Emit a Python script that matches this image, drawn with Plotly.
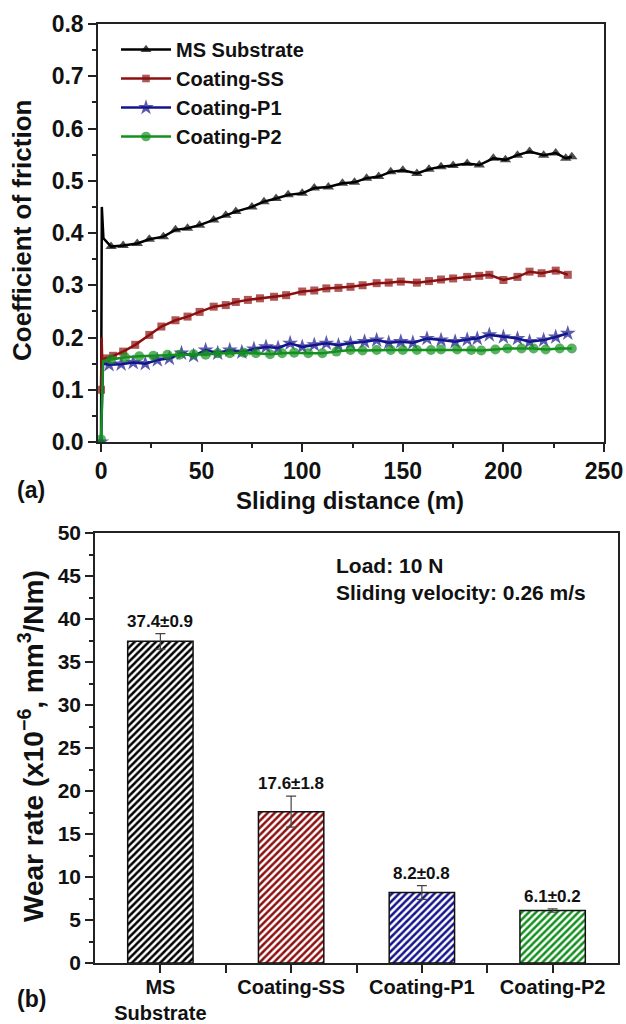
import plotly.graph_objects as go

# ---------------- data: (a) coefficient of friction ----------------
ms_x = [0, 0.4, 1.2, 5, 11, 18, 24, 31, 37, 43, 49, 56, 62, 67, 75, 81, 87, 93, 100, 106,
        113, 120, 126, 132, 138, 144, 150, 157, 163, 169, 175, 182, 188, 195, 201, 207, 213,
        220, 226, 231, 234]
ms_y = [0.0, 0.45, 0.39, 0.374, 0.376, 0.380, 0.388, 0.393, 0.406, 0.409, 0.415, 0.425, 0.434,
        0.441, 0.450, 0.460, 0.466, 0.473, 0.476, 0.486, 0.488, 0.495, 0.497, 0.505, 0.508,
        0.517, 0.520, 0.514, 0.522, 0.527, 0.529, 0.533, 0.530, 0.543, 0.540, 0.549, 0.556,
        0.549, 0.553, 0.543, 0.546]

ss_x = [0, 0.3, 0.6, 2, 6, 11, 17, 24, 30, 37, 43, 49, 56, 62, 67, 73, 79, 86, 92, 100, 106,
        112, 118, 124, 130, 137, 143, 149, 157, 163, 169, 175, 182, 188, 193, 200, 207, 213,
        219, 226, 232]
ss_y = [0.10, 0.20, 0.155, 0.160, 0.165, 0.173, 0.186, 0.205, 0.221, 0.233, 0.240, 0.249,
        0.259, 0.262, 0.268, 0.272, 0.275, 0.278, 0.281, 0.288, 0.290, 0.294, 0.295, 0.297,
        0.300, 0.304, 0.305, 0.307, 0.305, 0.308, 0.311, 0.313, 0.316, 0.318, 0.320, 0.310,
        0.316, 0.326, 0.323, 0.328, 0.320]

p1_x = [0, 1, 4, 10, 16, 22, 28, 34, 40, 46, 52, 58, 64, 70, 76, 82, 88, 94, 100, 106, 112,
        118, 124, 131, 137, 143, 149, 155, 162, 169, 176, 182, 187, 193, 200, 207, 213, 220,
        226, 232]
p1_y = [0.0, 0.150, 0.148, 0.149, 0.152, 0.150, 0.157, 0.160, 0.170, 0.165, 0.176, 0.170,
        0.176, 0.172, 0.178, 0.182, 0.180, 0.189, 0.182, 0.186, 0.189, 0.185, 0.189, 0.192,
        0.195, 0.190, 0.192, 0.190, 0.198, 0.195, 0.192, 0.196, 0.198, 0.205, 0.201, 0.198,
        0.192, 0.195, 0.201, 0.208]

p2_x = [0, 1, 5, 12, 19, 26, 33, 39, 46, 52, 58, 64, 71, 77, 84, 90, 96, 103, 110, 117, 124,
        130, 137, 144, 150, 157, 164, 169, 177, 184, 189, 196, 202, 209, 215, 221, 228, 234]
p2_y = [0.005, 0.155, 0.158, 0.162, 0.164, 0.165, 0.167, 0.167, 0.168, 0.167, 0.170, 0.170,
        0.171, 0.170, 0.168, 0.170, 0.171, 0.170, 0.170, 0.173, 0.176, 0.175, 0.176, 0.176,
        0.176, 0.176, 0.176, 0.177, 0.177, 0.176, 0.175, 0.177, 0.179, 0.179, 0.179, 0.177,
        0.179, 0.179]

series_names = ["MS Substrate", "Coating-SS", "Coating-P1", "Coating-P2"]
y_ticks_a = [0.0, 0.1, 0.2, 0.3, 0.4, 0.5, 0.6, 0.7, 0.8]
x_ticks_a = [0, 50, 100, 150, 200, 250]

# ---------------- data: (b) wear rate ----------------
categories = ["MS<br>Substrate", "Coating-SS", "Coating-P1", "Coating-P2"]
wear = [37.4, 17.6, 8.2, 6.1]
wear_err = [0.9, 1.8, 0.8, 0.2]
y_ticks_b = [0, 5, 10, 15, 20, 25, 30, 35, 40, 45, 50]

# ---------------- style ----------------
colors = ["#000000", "#8c1010", "#14148c", "#14901e"]
symbols = ["triangle-up", "square", "star", "circle"]
msizes = [10, 8, 12, 10]
FONT = "Liberation Sans, Arial, sans-serif"
W, H = 626, 1024
AXC = "#222222"
TXT = "#111111"


def px_x(p):
    return p / W


def px_y(p):
    return 1 - p / H


fig = go.Figure()

# hidden-marker indices for the initial run-in spike
hide = {0: [1, 2], 1: [1, 2], 2: [1], 3: [1]}
xs = [ms_x, ss_x, p1_x, p2_x]
ys = [ms_y, ss_y, p1_y, p2_y]
for i in range(4):
    sizes = [0 if k in hide[i] else msizes[i] for k in range(len(xs[i]))]
    fig.add_trace(go.Scatter(
        x=xs[i], y=ys[i], mode="lines+markers", name=series_names[i],
        line=dict(color=colors[i], width=2.5),
        marker=dict(symbol=symbols[i], size=sizes, color=colors[i],
                    line=dict(width=0)),
        xaxis="x", yaxis="y", showlegend=True, hoverinfo="skip"))

# bars
fig.add_trace(go.Bar(
    x=list(range(len(categories))), y=wear, width=0.5,
    marker=dict(color="white", line=dict(color="#111111", width=1.5),
                pattern=dict(shape="/", fgcolor=colors, bgcolor="white",
                             size=5, solidity=0.5, fillmode="replace")),
    error_y=dict(type="data", array=wear_err, visible=True, color="#444444",
                 thickness=1.2, width=5),
    xaxis="x2", yaxis="y2", showlegend=False, hoverinfo="skip"))


def axis_common(fs):
    return dict(showline=True, linecolor=AXC, linewidth=1.5, mirror=True,
                ticks="outside", ticklen=8, tickwidth=1.5, tickcolor=AXC,
                showgrid=False, zeroline=False, automargin=False,
                tickfont=dict(family=FONT, size=fs, color=TXT, weight="bold"))


fig.update_layout(
    template="none",
    width=W, height=H, autosize=False,
    margin=dict(l=0, r=0, t=0, b=0, pad=0),
    plot_bgcolor="white", paper_bgcolor="white",
    font=dict(family=FONT, color=TXT, weight="bold"),
    xaxis=dict(domain=[px_x(98), px_x(604)], range=[-1.5, 250], anchor="y",
               tickvals=x_ticks_a,
               minor=dict(dtick=25, tick0=0, ticks="outside", ticklen=4, tickcolor=AXC,
                          tickwidth=1.5, showgrid=False),
               **axis_common(23)),
    yaxis=dict(domain=[px_y(442), px_y(24)], range=[0, 0.8], anchor="x",
               tickvals=y_ticks_a, tickformat=".1f",
               minor=dict(dtick=0.05, tick0=0, ticks="outside", ticklen=4, tickcolor=AXC,
                          tickwidth=1.5, showgrid=False),
               **axis_common(23)),
    xaxis2=dict(domain=[px_x(95), px_x(618)], range=[-0.5, 3.5], anchor="y2",
                tickvals=list(range(len(categories))), ticktext=categories,
                ticklabelstandoff=-3,
                minor=dict(tickvals=[0.5, 1.5, 2.5], ticks="outside", ticklen=8,
                           tickcolor=AXC, tickwidth=1.5, showgrid=False),
                **axis_common(20)),
    yaxis2=dict(domain=[px_y(963), px_y(533)], range=[0, 50], anchor="x2",
                tickvals=y_ticks_b,
                minor=dict(dtick=2.5, tick0=0, ticks="outside", ticklen=4, tickcolor=AXC,
                           tickwidth=1.5, showgrid=False),
                **axis_common(21)),
    legend=dict(x=px_x(116), y=px_y(30), xanchor="left", yanchor="top",
                bgcolor="rgba(0,0,0,0)", borderwidth=0, itemwidth=50,
                font=dict(family=FONT, size=20, color=TXT, weight="bold"),
                tracegroupgap=0),
    showlegend=True,
)

ann = []
ann.append(dict(text="Coefficient of friction", x=px_x(22), y=px_y(231), xref="paper",
                yref="paper", textangle=-90, showarrow=False,
                font=dict(family=FONT, size=26, color=TXT, weight="bold"),
                xanchor="center", yanchor="middle"))
ann.append(dict(text="Sliding distance (m)", x=px_x(350), y=px_y(500), xref="paper",
                yref="paper", showarrow=False,
                font=dict(family=FONT, size=24, color=TXT, weight="bold"),
                xanchor="center", yanchor="middle"))
ann.append(dict(text="Wear rate (x10<sup>\u22126</sup>, mm<sup>3</sup>/Nm)", x=px_x(31),
                y=px_y(746), xref="paper", yref="paper", textangle=-90, showarrow=False,
                font=dict(family=FONT, size=28, color=TXT, weight="bold"),
                xanchor="center", yanchor="middle"))
ann.append(dict(text="(a)", x=px_x(31), y=px_y(490), xref="paper", yref="paper",
                showarrow=False, font=dict(family=FONT, size=23, color=TXT, weight="bold"),
                xanchor="center", yanchor="middle"))
ann.append(dict(text="(b)", x=px_x(31), y=px_y(999), xref="paper", yref="paper",
                showarrow=False, font=dict(family=FONT, size=23, color=TXT, weight="bold"),
                xanchor="center", yanchor="middle"))
ann.append(dict(text="Load: 10 N<br>Sliding velocity: 0.26 m/s", x=px_x(334),
                y=px_y(552), xref="paper", yref="paper", showarrow=False, align="left",
                font=dict(family=FONT, size=21, color=TXT, weight="bold"),
                xanchor="left", yanchor="top"))
for i in range(len(wear)):
    ann.append(dict(text=f"{wear[i]}\u00b1{wear_err[i]}", x=i, y=wear[i] + wear_err[i],
                    xref="x2", yref="y2", showarrow=False, yanchor="bottom", yshift=1,
                    font=dict(family=FONT, size=17, color=TXT, weight="bold")))
fig.update_layout(annotations=ann)

fig.write_html("out.html", config={"displayModeBar": False},
               post_script="document.body.style.margin='0';document.body.style.padding='0';"
                           "document.documentElement.style.overflow='hidden';")
